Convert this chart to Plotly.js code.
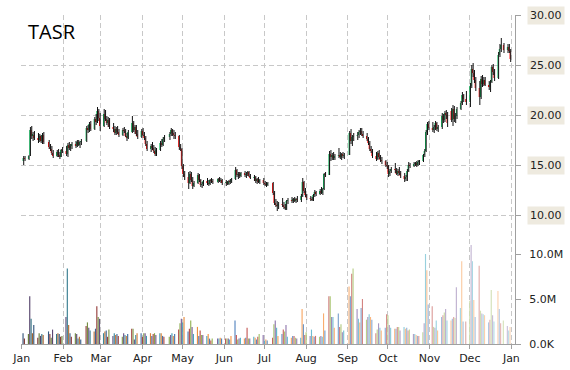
<!DOCTYPE html>
<html><head><meta charset="utf-8">
<script src="https://cdn.plot.ly/plotly-3.0.1.min.js"></script>
<style>html,body{margin:0;padding:0;background:#fff;}#chart{width:570px;height:370px;}</style>
</head><body><div id="chart"></div>
<script>
// ---- axis labels ----
const monthTickVals = ['2014-01-01','2014-02-01','2014-03-01','2014-04-01','2014-05-01','2014-06-01','2014-07-01','2014-08-01','2014-09-01','2014-10-01','2014-11-01','2014-12-01','2015-01-01'];
const monthTickText = ['Jan','Feb','Mar','Apr','May','Jun','Jul','Aug','Sep','Oct','Nov','Dec','Jan'];
const priceTickVals = [10,15,20,25,30];
const priceTickText = ['10.00','15.00','20.00','25.00','30.00'];
const volTickVals = [0,5e6,10e6];
const volTickText = ['0.0K','5.0M','10.0M'];
const holidays2014 = ['2014-01-01','2014-01-20','2014-02-17','2014-04-18','2014-05-26','2014-07-04','2014-09-01','2014-11-27','2014-12-25'];

// ---- daily prices (Jan..Dec 2014 trading days) ----
const openP = [
15.4,15.7,15.6,16.0,18.5,17.9,18.0,17.7,17.5,17.9,17.4,18.0,17.3,16.8,16.6,16.2,15.9,16.3,16.0,15.8,16.5,
16.4,16.1,17.0,16.7,16.9,17.1,16.9,17.3,17.0,17.3,17.4,18.7,18.5,19.1,18.6,19.6,19.3,20.4,19.7,
18.9,20.1,19.6,19.2,19.5,18.8,18.6,18.2,18.6,18.3,18.0,18.5,18.4,17.9,17.7,18.3,19.2,18.5,18.8,18.1,17.8,
18.4,18.0,17.7,17.1,16.6,16.9,16.7,16.4,16.1,16.5,17.2,17.0,17.6,17.8,18.1,18.5,18.2,18.0,17.9,16.8,16.6,
14.9,14.1,13.8,13.2,14.1,13.5,12.9,13.2,14.0,13.5,13.0,13.1,13.4,13.2,13.1,13.5,13.4,13.3,13.6,13.4,13.5,
13.2,13.3,13.1,13.4,13.3,13.6,14.5,14.0,14.1,13.9,14.2,14.0,14.1,14.3,13.9,13.7,13.8,13.4,13.6,13.3,13.5,
13.2,13.1,13.0,13.2,12.2,11.2,11.0,10.9,11.1,11.0,10.8,10.6,11.4,11.5,11.4,11.6,11.4,11.6,11.5,11.9,13.3,12.4,
12.0,11.7,11.6,11.5,12.0,12.3,12.1,12.4,12.2,12.6,14.1,14.0,16.1,15.8,16.0,15.7,15.9,16.0,15.8,16.1,15.9,
16.0,18.2,17.4,17.8,17.9,18.0,18.3,18.4,18.1,17.9,17.6,17.2,16.6,16.4,15.9,15.6,16.2,15.8,15.5,15.4,15.0,
14.9,14.1,14.4,14.6,14.5,14.1,14.4,14.2,13.9,13.6,13.8,14.4,15.0,14.9,15.1,15.2,15.0,15.3,15.4,16.0,16.4,18.3,19.1,
18.7,18.5,18.8,19.2,18.6,18.8,19.9,19.5,20.2,20.0,20.4,19.5,20.6,19.6,19.9,20.6,21.2,22.0,21.6,
21.3,22.9,24.6,24.2,23.5,22.7,21.8,23.6,23.1,23.5,23.0,22.8,23.3,24.8,24.3,23.7,26.0,26.6,27.0,26.5,26.8,26.4];
const highP = [
15.9,15.9,16.0,18.8,18.9,18.3,18.4,18.2,18.1,18.0,18.2,18.3,17.5,17.1,16.9,16.5,16.5,16.6,16.3,16.6,16.8,
16.9,17.2,17.3,17.1,17.3,17.4,17.5,17.5,17.4,17.6,18.9,19.0,19.3,19.4,19.8,20.1,20.8,20.6,20.2,
20.6,20.5,19.9,19.8,19.7,19.2,18.9,18.8,18.9,18.6,18.7,18.8,18.6,18.2,18.5,19.9,19.4,19.0,19.0,18.5,18.6,
18.7,18.3,17.9,17.4,17.1,17.3,17.0,16.8,16.7,17.4,17.6,17.8,18.0,18.3,18.7,18.6,18.5,18.3,18.0,17.1,16.7,
15.1,14.4,14.3,14.4,14.3,13.8,13.4,14.2,14.1,13.6,13.3,13.5,13.7,13.5,13.6,13.7,13.6,13.7,13.8,13.7,13.6,
13.5,13.4,13.5,13.6,13.7,14.8,14.6,14.3,14.3,14.3,14.4,14.3,14.4,14.4,14.1,14.0,13.9,13.7,13.8,13.6,13.7,
13.4,13.3,13.3,13.3,12.4,11.6,11.4,11.3,11.7,11.3,11.1,11.5,11.7,11.8,11.7,11.8,11.7,11.9,12.1,13.7,13.4,12.7,
12.1,11.9,11.8,12.1,12.5,12.4,12.6,12.8,12.7,14.2,14.3,16.4,16.5,16.2,16.3,16.1,16.7,16.3,16.2,16.3,16.2,
18.4,18.6,18.0,18.2,18.3,18.5,18.7,18.7,18.4,18.2,17.8,17.4,16.9,16.6,16.3,16.4,16.5,16.0,15.8,15.5,15.3,
15.0,14.6,14.8,15.2,14.7,14.6,14.8,14.4,14.2,14.0,14.6,15.3,15.2,15.3,15.3,15.4,15.5,15.5,16.1,16.6,18.5,19.3,19.4,
19.3,19.0,19.4,19.3,19.0,20.2,20.1,20.4,20.5,20.3,20.7,21.0,20.9,20.2,20.8,21.4,22.3,22.1,22.4,
23.2,25.0,25.2,24.5,23.8,23.4,23.9,24.0,23.8,23.8,23.4,23.5,25.0,25.1,24.6,26.3,27.1,27.7,27.2,27.1,27.1,26.6];
const lowP = [
15.0,15.4,15.5,15.9,17.6,17.4,17.5,17.2,17.3,17.2,17.1,17.1,16.6,16.4,16.0,15.7,15.8,15.8,15.6,15.8,16.2,
15.9,15.8,16.5,16.4,16.6,16.7,16.8,16.9,16.7,17.0,17.3,18.2,18.3,18.4,18.5,19.0,19.2,19.4,18.4,
18.8,19.4,19.0,18.8,18.6,18.3,18.0,18.0,18.1,17.8,17.9,18.2,17.8,17.4,17.6,18.2,18.3,18.1,17.9,17.6,17.7,
17.9,17.5,16.9,16.4,16.3,16.5,16.2,15.9,15.9,16.4,16.8,16.9,17.3,17.5,17.9,17.9,17.6,17.6,16.5,16.4,14.6,
13.8,13.5,12.6,13.1,13.3,12.6,12.8,13.1,13.3,12.8,12.7,12.9,13.0,12.9,13.0,13.2,13.1,13.2,13.3,13.2,13.0,
12.9,13.0,13.0,13.1,13.2,13.5,13.8,13.6,13.7,13.8,13.8,13.7,13.9,13.8,13.6,13.4,13.2,13.1,13.2,13.1,13.0,
12.9,12.8,12.9,12.0,11.0,10.8,10.4,10.6,10.8,10.6,10.5,10.5,11.1,11.2,11.2,11.3,11.2,11.3,11.3,11.8,12.2,11.8,
11.5,11.4,11.4,11.4,11.8,11.9,12.0,12.1,12.0,12.5,13.8,14.0,15.4,15.5,15.5,15.5,15.7,15.6,15.5,15.7,15.6,
16.0,17.1,16.9,17.4,17.5,17.7,18.0,17.9,17.7,17.4,17.0,16.4,16.2,15.7,15.4,15.5,15.6,15.3,15.1,14.8,14.6,
13.8,13.9,14.2,14.2,14.0,13.9,14.0,13.7,13.3,13.4,13.4,14.3,14.7,14.8,14.9,14.8,14.9,15.0,15.3,15.8,16.3,18.0,18.5,
18.3,18.2,18.5,18.4,18.3,18.6,19.2,19.3,19.6,18.8,19.3,18.9,19.3,19.2,19.6,20.5,21.0,21.3,21.0,
20.8,22.7,23.8,23.2,22.4,21.0,21.6,22.8,22.9,22.9,22.5,22.3,23.2,24.0,23.4,23.6,25.8,26.3,26.2,26.2,26.2,25.3];
const closeP = [
15.7,15.6,15.9,18.5,17.9,18.1,17.7,17.5,17.9,17.4,18.0,17.3,16.8,16.6,16.2,15.9,16.3,16.0,15.8,16.5,16.4,
16.1,17.0,16.7,16.9,17.1,16.9,17.3,17.0,17.3,17.4,18.7,18.5,19.1,18.6,19.6,19.3,20.4,19.7,18.9,
20.1,19.6,19.2,19.5,18.8,18.6,18.2,18.6,18.3,18.0,18.5,18.4,17.9,17.7,18.3,19.2,18.5,18.8,18.1,17.8,18.4,
18.0,17.7,17.1,16.6,16.9,16.7,16.4,16.1,16.5,17.2,17.0,17.6,17.8,18.1,18.5,18.2,18.0,17.9,16.8,16.6,14.9,
14.1,13.8,13.2,14.1,13.5,12.9,13.2,14.0,13.5,13.0,13.1,13.4,13.2,13.1,13.5,13.4,13.3,13.6,13.4,13.5,13.2,
13.3,13.1,13.4,13.3,13.6,14.5,14.0,14.1,13.9,14.2,14.0,14.1,14.3,13.9,13.7,13.8,13.4,13.6,13.3,13.5,13.2,
13.1,13.0,13.2,12.2,11.2,11.0,10.9,11.1,11.0,10.8,10.7,11.4,11.5,11.4,11.6,11.4,11.6,11.5,11.9,13.3,12.4,12.0,
11.7,11.6,11.5,12.0,12.3,12.1,12.4,12.2,12.6,14.1,14.0,16.1,15.8,16.0,15.7,15.9,16.0,15.8,16.1,15.9,16.0,
18.2,17.4,17.8,17.9,18.0,18.3,18.4,18.1,17.9,17.6,17.2,16.6,16.4,15.9,15.6,16.2,15.8,15.5,15.4,15.0,14.9,
14.1,14.4,14.6,14.5,14.1,14.4,14.2,13.9,13.6,13.8,14.4,15.0,14.9,15.1,15.2,15.0,15.3,15.4,16.0,16.4,18.3,19.1,18.7,
18.5,18.8,19.2,18.6,18.8,19.9,19.5,20.2,20.0,19.2,19.5,20.6,19.6,19.9,20.6,21.2,22.0,21.6,21.3,
22.9,24.6,24.2,23.5,22.7,21.8,23.6,23.1,23.5,23.0,22.8,23.3,24.8,24.3,23.7,26.0,26.6,27.0,26.5,26.8,26.4,25.6];
// ---- daily volume, millions of shares ----
const volumeM = [
1.2,0.6,1.1,5.3,2.8,1.2,2.1,0.7,1.2,0.9,1.1,1.0,1.4,1.1,0.7,1.6,1.1,1.2,1.1,0.8,0.9,
3.0,8.4,2.1,1.2,0.8,1.2,1.1,0.6,0.8,0.5,2.0,2.4,1.8,1.5,1.4,1.7,4.2,3.0,2.8,
1.2,1.4,1.5,0.8,1.6,0.9,1.2,1.0,1.1,0.9,0.8,1.2,1.0,0.9,1.1,1.7,1.7,0.5,1.0,1.2,1.2,
0.8,1.2,1.2,0.9,1.2,0.9,1.1,1.2,1.0,1.2,1.2,0.9,0.8,0.8,1.0,1.2,0.9,1.1,1.6,2.3,2.8,
2.4,3.0,1.4,1.7,2.6,1.9,1.1,1.9,0.9,1.5,1.0,1.0,0.9,1.1,0.6,0.4,0.6,0.6,0.6,0.7,0.6,
0.6,0.6,0.6,0.5,0.9,2.6,1.0,0.5,0.6,0.7,0.6,0.7,1.8,0.6,0.6,0.8,0.7,0.5,0.8,1.1,1.0,
0.4,0.5,0.4,0.7,2.2,2.6,1.8,0.9,1.1,1.6,1.4,2.1,0.8,0.7,0.9,0.9,0.7,0.6,0.7,3.9,2.2,1.0,
1.3,0.9,1.6,0.9,0.8,0.9,0.8,0.9,0.8,3.4,1.5,5.3,5.3,3.0,3.0,1.8,3.4,1.9,2.2,1.3,1.5,
6.4,5.3,7.8,8.4,3.9,2.8,2.4,4.0,5.0,2.7,3.0,3.3,3.0,2.7,1.2,1.6,2.3,1.8,1.5,1.8,3.3,
3.2,2.1,1.8,1.7,1.7,1.9,1.9,1.5,1.9,1.7,1.8,1.5,1.6,1.1,1.1,1.0,0.9,0.9,1.3,2.3,10.0,8.2,4.4,
4.2,1.9,1.8,2.6,1.5,3.0,3.2,3.5,3.9,2.6,2.6,2.8,3.0,2.9,6.3,4.0,9.2,2.5,2.5,
4.8,11.0,9.2,4.9,3.0,8.7,3.7,3.4,3.3,3.2,2.4,2.7,6.0,3.2,2.5,5.9,3.9,2.3,2.6,2.0,1.5,1.9];

// ---- trading calendar ----
function tradingDays(){
  const out = [];
  const d = new Date(Date.UTC(2014,0,1));
  while (d.getUTCFullYear() === 2014){
    const s = d.toISOString().slice(0,10);
    const w = d.getUTCDay();
    if (w !== 0 && w !== 6 && holidays2014.indexOf(s) < 0) out.push(s);
    d.setUTCDate(d.getUTCDate()+1);
  }
  return out;
}
const dates = tradingDays();

// ---- volume bar colours (cycling palette, darker early, paler late) ----
const palette = [[79,129,189],[192,80,77],[155,187,89],[128,100,162],[75,172,198],[247,150,70]];
function shade(c, f){
  return 'rgb(' + c.map(v => Math.round(f < 0 ? v*(1+f) : v + (255-v)*f)).join(',') + ')';
}
const volColors = volumeM.map((v,i) => {
  const t = i/(volumeM.length-1);
  const f = t < 0.4 ? -0.35*(0.4-t)/0.4 : 0.6*(t-0.4)/0.6;
  return shade(palette[i % palette.length], f);
});

const DAY = 86400000;
const grid = '#c8c8c8';
const axisCol = '#a0a0a0';
const tickFont = {family:'DejaVu Sans', size:11, color:'#222'};

const traces = [
  {type:'candlestick', x:dates, open:openP, high:highP, low:lowP, close:closeP,
   increasing:{line:{color:'#00b050', width:0}, fillcolor:'#00b050'},
   decreasing:{line:{color:'#ff0000', width:0}, fillcolor:'#ff0000'},
   whiskerwidth:0, hoverinfo:'skip', showlegend:false},
  {type:'ohlc', x:dates, open:openP, high:highP, low:lowP, close:closeP,
   increasing:{line:{color:'#111', width:1}}, decreasing:{line:{color:'#111', width:1}},
   tickwidth:0, xperiod:DAY, xperiodalignment:'middle', hoverinfo:'skip', showlegend:false},
  {type:'bar', x:dates, y:volumeM.map(v => v*1e6), yaxis:'y2', width:0.85*DAY,
   marker:{color:volColors, line:{width:0}}, hoverinfo:'skip', showlegend:false}
];

const layout = {
  width:570, height:370, margin:{l:21, r:55, t:15, b:26},
  paper_bgcolor:'#fff', plot_bgcolor:'#fff', showlegend:false, boxgap:0,
  title:{text:'TASR', font:{family:'Open Sans', size:20, color:'#000'},
         xref:'container', x:28/570, xanchor:'left', yref:'container', y:1-31.5/370, yanchor:'middle'},
  xaxis:{type:'date', range:['2013-12-31 11:30','2015-01-03 17:00'], rangeslider:{visible:false},
         tickmode:'array', tickvals:monthTickVals, ticktext:monthTickText,
         showgrid:true, gridcolor:grid, griddash:'5px,3px', gridwidth:1,
         ticks:'outside', ticklen:4, tickcolor:axisCol, showline:true, linecolor:axisCol, linewidth:1,
         tickfont:tickFont, zeroline:false, fixedrange:true},
  yaxis:{side:'right', range:[-2.9,30], tickmode:'array', tickvals:priceTickVals, showticklabels:false,
         showgrid:true, gridcolor:grid, griddash:'5px,3px', gridwidth:1,
         ticks:'outside', ticklen:5, tickcolor:axisCol, showline:true, linecolor:axisCol, linewidth:1,
         zeroline:false, fixedrange:true},
  yaxis2:{overlaying:'y', side:'right', range:[0, 329/9*1e6], tickmode:'array', tickvals:volTickVals, ticktext:volTickText,
          showgrid:false, ticks:'outside', ticklen:5, tickcolor:axisCol, showline:false, zeroline:false,
          tickfont:tickFont, ticklabelstandoff:6, fixedrange:true},
  annotations: priceTickVals.map((v,i) => ({
    xref:'paper', x:1, xanchor:'left', xshift:12, yref:'y', y:v, yanchor:'middle',
    text:priceTickText[i], showarrow:false, bgcolor:'#eeeadf', borderpad:2, font:tickFont}))
};

Plotly.newPlot('chart', traces, layout, {staticPlot:true, displayModeBar:false});
</script></body></html>
